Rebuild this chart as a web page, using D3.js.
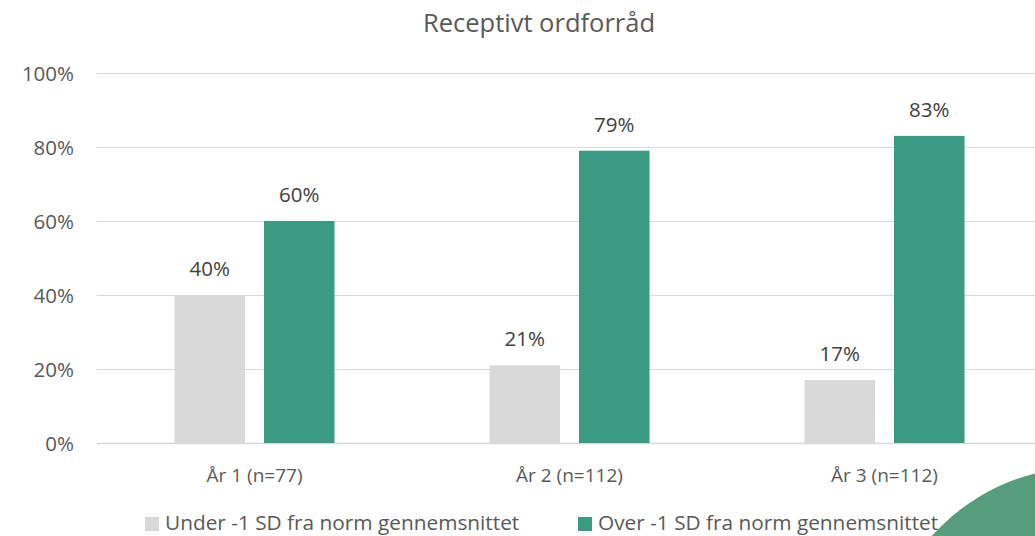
<!DOCTYPE html>
<html><head><meta charset="utf-8">
<script src="https://cdn.jsdelivr.net/npm/d3@7"></script>
<style>html,body{margin:0;padding:0;background:#fff;overflow:hidden}</style>
</head><body>
<svg id="chart" width="1035" height="536"></svg>
<script>
const categories = ["År 1 (n=77)", "År 2 (n=112)", "År 3 (n=112)"];
const seriesNames = ["Under -1 SD fra norm gennemsnittet", "Over -1 SD fra norm gennemsnittet"];
const under = [40, 21, 17];
const over = [60, 79, 83];
const yTicks = [0, 20, 40, 60, 80, 100];
const colors = ["#d9d9d9", "#3b9a82"];

const svg = d3.select("#chart");
const font = "'Open Sans', sans-serif";

const x = d3.scaleBand().domain(categories).range([97, 1042]);
const y = d3.scaleLinear().domain([0, 100]).range([443, 73]);
const xs = d3.scaleBand().domain([0, 1]).range([-80, 80]).paddingInner(0.212);

// gridlines
svg.append("g").selectAll("line").data(yTicks).join("line")
  .attr("x1", 97).attr("x2", 1042)
  .attr("y1", d => y(d) + 0.5).attr("y2", d => y(d) + 0.5)
  .attr("stroke", "#d9d9d9").attr("stroke-width", d => d === 0 ? 1.5 : 1);

// y tick labels
svg.append("g").selectAll("text").data(yTicks).join("text")
  .attr("x", 74).attr("y", d => y(d) + 7.5)
  .attr("text-anchor", "end").attr("font-family", font).attr("font-size", 20.5)
  .attr("fill", "#595959").text(d => d + "%");

const series = [under, over];
const g = svg.append("g");
series.forEach((vals, si) => {
  g.append("g").selectAll("rect").data(categories).join("rect")
    .attr("x", (c) => x(c) + x.bandwidth() / 2 + xs(si))
    .attr("width", xs.bandwidth())
    .attr("y", (c, i) => y(vals[i]))
    .attr("height", (c, i) => y(0) - y(vals[i]))
    .attr("fill", colors[si]);
  g.append("g").selectAll("text").data(categories).join("text")
    .attr("x", (c) => x(c) + x.bandwidth() / 2 + xs(si) + xs.bandwidth() / 2)
    .attr("y", (c, i) => y(vals[i]) - 19)
    .attr("text-anchor", "middle").attr("font-family", font).attr("font-size", 20.5)
    .attr("fill", "#404040").text((c, i) => vals[i] + "%");
});

// category labels
svg.append("g").selectAll("text").data(categories).join("text")
  .attr("x", c => x(c) + x.bandwidth() / 2).attr("y", 482)
  .attr("text-anchor", "middle").attr("font-family", font).attr("font-size", 19)
  .attr("fill", "#595959").text(c => c);

// title
svg.append("text").attr("x", 539).attr("y", 32).attr("text-anchor", "middle")
  .attr("font-family", font).attr("font-size", 25.5).attr("fill", "#595959")
  .text("Receptivt ordforråd");

// decorative circle
svg.append("circle").attr("cx", 1086).attr("cy", 674).attr("r", 207).attr("fill", "#559d7b");

// legend
const legX = [145, 578];
seriesNames.forEach((n, i) => {
  svg.append("rect").attr("x", legX[i]).attr("y", 517).attr("width", 14).attr("height", 14).attr("fill", colors[i]);
  svg.append("text").attr("x", legX[i] + 20).attr("y", 530).attr("font-family", font)
    .attr("font-size", 20.8).attr("fill", "#595959").text(n);
});
</script>
</body></html>
